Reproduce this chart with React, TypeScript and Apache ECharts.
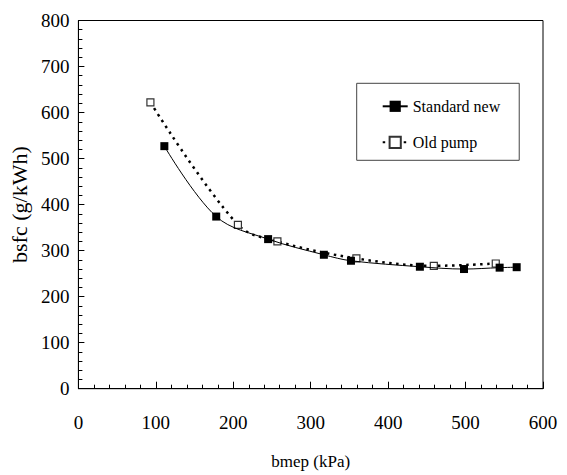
import React, { useEffect, useRef } from "react";
import * as echarts from "echarts";

const standardX = [111, 178, 245, 317, 352, 441, 498, 544, 566];
const standardY = [527, 374, 325, 291, 278, 265, 260, 263, 264];
const oldX = [93, 206, 257, 359, 459, 539];
const oldY = [622, 356, 320, 283, 267, 272];
const xTicks = [0, 600, 100];
const yTicks = [0, 800, 100];

const FONT = "Liberation Serif";

export default function App() {
  const ref = useRef<HTMLDivElement>(null);
  useEffect(() => {
    if (!ref.current) return;
    const chart = echarts.init(ref.current, null, { renderer: "svg" });
    const pair = (xs: number[], ys: number[]) => xs.map((x, i) => [x, ys[i]]);
    chart.setOption({
      animation: false,
      backgroundColor: "#fff",
      textStyle: { fontFamily: FONT, color: "#000" },
      grid: {
        left: 71.5,
        right: 24,
        top: 20.5,
        bottom: 86.3,
        show: true,
        borderColor: "#000",
        borderWidth: 1,
      },
      legend: {
        left: 356.7,
        top: 83.3,
        orient: "vertical",
        itemWidth: 25,
        itemHeight: 14,
        itemGap: 20,
        padding: [15, 19, 10, 25],
        borderColor: "#444",
        borderWidth: 1,
        backgroundColor: "#fff",
        textStyle: { fontFamily: FONT, fontSize: 16, color: "#000" },
        data: ["Standard new", "Old pump"],
      },
      xAxis: {
        type: "value",
        min: xTicks[0],
        max: xTicks[1],
        interval: xTicks[2],
        name: "bmep (kPa)",
        nameLocation: "middle",
        nameGap: 64,
        nameTextStyle: { fontFamily: FONT, fontSize: 17, color: "#000" },
        axisLine: { show: true, lineStyle: { color: "#000", width: 1 } },
        axisTick: { show: true, inside: true, length: 7, lineStyle: { color: "#000" } },
        minorTick: { show: true, splitNumber: 5, length: 4, lineStyle: { color: "#000" } },
        splitLine: { show: false },
        axisLabel: { fontFamily: FONT, fontSize: 19, color: "#000", margin: 24 },
      },
      yAxis: {
        type: "value",
        min: yTicks[0],
        max: yTicks[1],
        interval: yTicks[2],
        name: "bsfc (g/kWh)",
        nameLocation: "middle",
        nameGap: 35,
        nameTextStyle: { fontFamily: FONT, fontSize: 22, color: "#000" },
        axisLine: { show: true, lineStyle: { color: "#000", width: 1 } },
        axisTick: { show: true, inside: true, length: 6, lineStyle: { color: "#000" } },
        minorTick: { show: true, splitNumber: 5, length: 4, lineStyle: { color: "#000" } },
        splitLine: { show: false },
        axisLabel: { fontFamily: FONT, fontSize: 19, color: "#000", margin: 9 },
      },
      series: [
        {
          name: "Standard new",
          type: "line",
          data: pair(standardX, standardY),
          smooth: 0.35,
          symbol: "rect",
          symbolSize: 8,
          showAllSymbol: true,
          lineStyle: { color: "#000", width: 1 },
          itemStyle: { color: "#000", borderColor: "#000", borderWidth: 0 },
          z: 3,
        },
        {
          name: "Old pump",
          type: "line",
          data: pair(oldX, oldY),
          smooth: 0.35,
          symbol: "rect",
          symbolSize: 7,
          showAllSymbol: true,
          lineStyle: { color: "#000", width: 2.5, type: [2.5, 4.5] },
          itemStyle: { color: "#fff", borderColor: "#333", borderWidth: 1.2 },
          z: 2,
        },
      ],
    });
    return () => chart.dispose();
  }, []);
  return <div ref={ref} style={{ width: 567, height: 475, position: "absolute", left: 0, top: 0 }} />;
}
